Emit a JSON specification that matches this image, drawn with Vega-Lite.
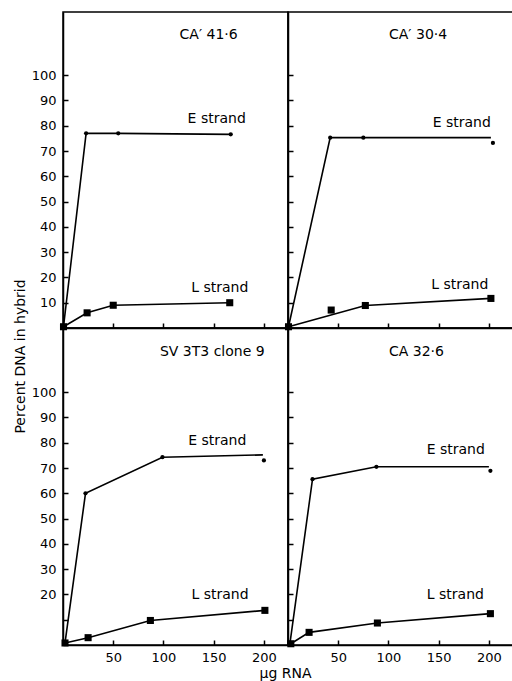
{
  "$schema": "https://vega.github.io/schema/vega-lite/v6.json",
  "padding": {"left": 12, "top": 11, "right": 0, "bottom": 0},
  "bounds": "flush",
  "spacing": 0,
  "columns": 2,
  "background": "white",
  "config": {
    "view": {"stroke": "black", "strokeWidth": 1.5},
    "axis": {
      "grid": false,
      "domainColor": "black",
      "domainWidth": 1.5,
      "tickColor": "black",
      "tickWidth": 1.5,
      "tickSize": -5,
      "labelFont": "DejaVu Sans",
      "labelFontSize": 13,
      "labelColor": "black",
      "labelFlush": false,
      "labelOverlap": false,
      "titleFont": "DejaVu Sans",
      "titleFontSize": 14,
      "titleFontWeight": "normal",
      "titleColor": "black"
    },
    "axisY": {"labelPadding": 12},
    "axisX": {"labelPadding": 11}
  },
  "datasets": {
    "curves": [
      {"panel": "CA′ 41·6", "strand": "E", "x": 0.5, "y": 0.5},
      {"panel": "CA′ 41·6", "strand": "E", "x": 23, "y": 77},
      {"panel": "CA′ 41·6", "strand": "E", "x": 55, "y": 77},
      {"panel": "CA′ 41·6", "strand": "E", "x": 167, "y": 76.6},
      {"panel": "CA′ 41·6", "strand": "L", "x": 0.5, "y": 0.5},
      {"panel": "CA′ 41·6", "strand": "L", "x": 24, "y": 6},
      {"panel": "CA′ 41·6", "strand": "L", "x": 50, "y": 9},
      {"panel": "CA′ 41·6", "strand": "L", "x": 166, "y": 10},
      {"panel": "CA′ 30·4", "strand": "E", "x": 0.5, "y": 0.5},
      {"panel": "CA′ 30·4", "strand": "E", "x": 42, "y": 75.3},
      {"panel": "CA′ 30·4", "strand": "E", "x": 75, "y": 75.3},
      {"panel": "CA′ 30·4", "strand": "E", "x": 202, "y": 75.3},
      {"panel": "CA′ 30·4", "strand": "L", "x": 0.5, "y": 0.5},
      {"panel": "CA′ 30·4", "strand": "L", "x": 77, "y": 8.9},
      {"panel": "CA′ 30·4", "strand": "L", "x": 202, "y": 11.7},
      {"panel": "SV 3T3 clone 9", "strand": "E", "x": 2, "y": 0.8},
      {"panel": "SV 3T3 clone 9", "strand": "E", "x": 22.4, "y": 60},
      {"panel": "SV 3T3 clone 9", "strand": "E", "x": 99, "y": 74.3},
      {"panel": "SV 3T3 clone 9", "strand": "E", "x": 199, "y": 75.2},
      {"panel": "SV 3T3 clone 9", "strand": "L", "x": 2, "y": 0.8},
      {"panel": "SV 3T3 clone 9", "strand": "L", "x": 25, "y": 2.9},
      {"panel": "SV 3T3 clone 9", "strand": "L", "x": 87, "y": 9.7},
      {"panel": "SV 3T3 clone 9", "strand": "L", "x": 201, "y": 13.7},
      {"panel": "CA 32·6", "strand": "E", "x": 2, "y": 0.8},
      {"panel": "CA 32·6", "strand": "E", "x": 24.4, "y": 65.6},
      {"panel": "CA 32·6", "strand": "E", "x": 88, "y": 70.5},
      {"panel": "CA 32·6", "strand": "E", "x": 200, "y": 70.5},
      {"panel": "CA 32·6", "strand": "L", "x": 2.8, "y": 0.5},
      {"panel": "CA 32·6", "strand": "L", "x": 21, "y": 5},
      {"panel": "CA 32·6", "strand": "L", "x": 89, "y": 8.7},
      {"panel": "CA 32·6", "strand": "L", "x": 201.5, "y": 12.4}
    ],
    "points": [
      {"panel": "CA′ 41·6", "strand": "E", "x": 23, "y": 77},
      {"panel": "CA′ 41·6", "strand": "E", "x": 55, "y": 77},
      {"panel": "CA′ 41·6", "strand": "E", "x": 167, "y": 76.6},
      {"panel": "CA′ 41·6", "strand": "L", "x": 0.5, "y": 0.5},
      {"panel": "CA′ 41·6", "strand": "L", "x": 24, "y": 6},
      {"panel": "CA′ 41·6", "strand": "L", "x": 50, "y": 9},
      {"panel": "CA′ 41·6", "strand": "L", "x": 166, "y": 10},
      {"panel": "CA′ 30·4", "strand": "E", "x": 42, "y": 75.3},
      {"panel": "CA′ 30·4", "strand": "E", "x": 75, "y": 75.3},
      {"panel": "CA′ 30·4", "strand": "E", "x": 204, "y": 73.2},
      {"panel": "CA′ 30·4", "strand": "L", "x": 0.5, "y": 0.5},
      {"panel": "CA′ 30·4", "strand": "L", "x": 43, "y": 7.1},
      {"panel": "CA′ 30·4", "strand": "L", "x": 77, "y": 8.9},
      {"panel": "CA′ 30·4", "strand": "L", "x": 202, "y": 11.7},
      {"panel": "SV 3T3 clone 9", "strand": "E", "x": 22.4, "y": 60},
      {"panel": "SV 3T3 clone 9", "strand": "E", "x": 99, "y": 74.3},
      {"panel": "SV 3T3 clone 9", "strand": "E", "x": 200, "y": 73},
      {"panel": "SV 3T3 clone 9", "strand": "L", "x": 2, "y": 0.8},
      {"panel": "SV 3T3 clone 9", "strand": "L", "x": 25, "y": 2.9},
      {"panel": "SV 3T3 clone 9", "strand": "L", "x": 87, "y": 9.7},
      {"panel": "SV 3T3 clone 9", "strand": "L", "x": 201, "y": 13.7},
      {"panel": "CA 32·6", "strand": "E", "x": 24.4, "y": 65.6},
      {"panel": "CA 32·6", "strand": "E", "x": 88, "y": 70.5},
      {"panel": "CA 32·6", "strand": "E", "x": 201.5, "y": 68.9},
      {"panel": "CA 32·6", "strand": "L", "x": 2.8, "y": 0.5},
      {"panel": "CA 32·6", "strand": "L", "x": 21, "y": 5},
      {"panel": "CA 32·6", "strand": "L", "x": 89, "y": 8.7},
      {"panel": "CA 32·6", "strand": "L", "x": 201.5, "y": 12.4}
    ],
    "labels": [
      {"panel": "CA′ 41·6", "text": "CA′ 41·6", "x": 145, "y": 115.8},
      {"panel": "CA′ 41·6", "text": "E strand", "x": 153, "y": 82.5},
      {"panel": "CA′ 41·6", "text": "L strand", "x": 156, "y": 16},
      {"panel": "CA′ 30·4", "text": "CA′ 30·4", "x": 129.5, "y": 115.8},
      {"panel": "CA′ 30·4", "text": "E strand", "x": 173, "y": 81.2},
      {"panel": "CA′ 30·4", "text": "L strand", "x": 171, "y": 17},
      {"panel": "SV 3T3 clone 9", "text": "SV 3T3 clone 9", "x": 148.6, "y": 116},
      {"panel": "SV 3T3 clone 9", "text": "E strand", "x": 153.6, "y": 80.6},
      {"panel": "SV 3T3 clone 9", "text": "L strand", "x": 156.3, "y": 19.9},
      {"panel": "CA 32·6", "text": "CA 32·6", "x": 127.9, "y": 116},
      {"panel": "CA 32·6", "text": "E strand", "x": 167, "y": 77.3},
      {"panel": "CA 32·6", "text": "L strand", "x": 166.6, "y": 19.9}
    ]
  },
  "concat": [
    {
      "width": 225, "height": 316,
      "encoding": {
        "x": {"field": "x", "type": "quantitative", "scale": {"domain": [0, 224]}, "axis": {"values": [50, 100, 150, 200], "labels": false, "title": null}},
        "y": {"field": "y", "type": "quantitative", "scale": {"domain": [0, 125]}, "axis": {"values": [10, 20, 30, 40, 50, 60, 70, 80, 90, 100], "title": null}}
      },
      "layer": [
        {"data": {"name": "curves"}, "transform": [{"filter": "datum.panel === 'CA′ 41·6'"}], "mark": {"type": "line", "color": "black", "strokeWidth": 1.6}, "encoding": {"detail": {"field": "strand"}, "order": {"field": "x", "type": "quantitative"}}},
        {"data": {"name": "points"}, "transform": [{"filter": "datum.panel === 'CA′ 41·6'"}], "mark": {"type": "point", "filled": true, "color": "black", "opacity": 1}, "encoding": {"shape": {"field": "strand", "scale": {"domain": ["E", "L"], "range": ["circle", "square"]}, "legend": null}, "size": {"field": "strand", "type": "nominal", "scale": {"domain": ["E", "L"], "range": [18, 50]}, "legend": null}}},
        {"data": {"name": "labels"}, "transform": [{"filter": "datum.panel === 'CA′ 41·6'"}], "mark": {"type": "text", "font": "DejaVu Sans", "fontSize": 14, "color": "black", "align": "center", "baseline": "middle"}, "encoding": {"text": {"field": "text"}}}
      ]
    },
    {
      "width": 225, "height": 316,
      "encoding": {
        "x": {"field": "x", "type": "quantitative", "scale": {"domain": [0, 224]}, "axis": {"values": [50, 100, 150, 200], "labels": false, "title": null}},
        "y": {"field": "y", "type": "quantitative", "scale": {"domain": [0, 125]}, "axis": {"values": [10, 20, 30, 40, 50, 60, 70, 80, 90, 100], "labels": false, "title": null}}
      },
      "layer": [
        {"data": {"name": "curves"}, "transform": [{"filter": "datum.panel === 'CA′ 30·4'"}], "mark": {"type": "line", "color": "black", "strokeWidth": 1.6}, "encoding": {"detail": {"field": "strand"}, "order": {"field": "x", "type": "quantitative"}}},
        {"data": {"name": "points"}, "transform": [{"filter": "datum.panel === 'CA′ 30·4'"}], "mark": {"type": "point", "filled": true, "color": "black", "opacity": 1}, "encoding": {"shape": {"field": "strand", "scale": {"domain": ["E", "L"], "range": ["circle", "square"]}, "legend": null}, "size": {"field": "strand", "type": "nominal", "scale": {"domain": ["E", "L"], "range": [18, 50]}, "legend": null}}},
        {"data": {"name": "labels"}, "transform": [{"filter": "datum.panel === 'CA′ 30·4'"}], "mark": {"type": "text", "font": "DejaVu Sans", "fontSize": 14, "color": "black", "align": "center", "baseline": "middle"}, "encoding": {"text": {"field": "text"}}}
      ]
    },
    {
      "width": 225, "height": 317,
      "encoding": {
        "x": {"field": "x", "type": "quantitative", "scale": {"domain": [0, 224]}, "axis": {"values": [50, 100, 150, 200], "title": "μg RNA", "titleX": 222, "titleY": 28, "titleBaseline": "middle", "titleAlign": "center"}},
        "y": {"field": "y", "type": "quantitative", "scale": {"domain": [0, 125.4]}, "axis": {"values": [10, 20, 30, 40, 50, 60, 70, 80, 90, 100], "labelExpr": "datum.value == 10 ? '' : datum.label", "title": "Percent DNA in hybrid", "titleX": -43, "titleY": 28, "titleAngle": 270, "titleAlign": "center", "titleBaseline": "middle"}}
      },
      "layer": [
        {"data": {"name": "curves"}, "transform": [{"filter": "datum.panel === 'SV 3T3 clone 9'"}], "mark": {"type": "line", "color": "black", "strokeWidth": 1.6}, "encoding": {"detail": {"field": "strand"}, "order": {"field": "x", "type": "quantitative"}}},
        {"data": {"name": "points"}, "transform": [{"filter": "datum.panel === 'SV 3T3 clone 9'"}], "mark": {"type": "point", "filled": true, "color": "black", "opacity": 1}, "encoding": {"shape": {"field": "strand", "scale": {"domain": ["E", "L"], "range": ["circle", "square"]}, "legend": null}, "size": {"field": "strand", "type": "nominal", "scale": {"domain": ["E", "L"], "range": [18, 50]}, "legend": null}}},
        {"data": {"name": "labels"}, "transform": [{"filter": "datum.panel === 'SV 3T3 clone 9'"}], "mark": {"type": "text", "font": "DejaVu Sans", "fontSize": 14, "color": "black", "align": "center", "baseline": "middle"}, "encoding": {"text": {"field": "text"}}}
      ]
    },
    {
      "width": 225, "height": 317,
      "encoding": {
        "x": {"field": "x", "type": "quantitative", "scale": {"domain": [0, 224]}, "axis": {"values": [50, 100, 150, 200], "title": null}},
        "y": {"field": "y", "type": "quantitative", "scale": {"domain": [0, 125.4]}, "axis": {"values": [10, 20, 30, 40, 50, 60, 70, 80, 90, 100], "labels": false, "title": null}}
      },
      "layer": [
        {"data": {"name": "curves"}, "transform": [{"filter": "datum.panel === 'CA 32·6'"}], "mark": {"type": "line", "color": "black", "strokeWidth": 1.6}, "encoding": {"detail": {"field": "strand"}, "order": {"field": "x", "type": "quantitative"}}},
        {"data": {"name": "points"}, "transform": [{"filter": "datum.panel === 'CA 32·6'"}], "mark": {"type": "point", "filled": true, "color": "black", "opacity": 1}, "encoding": {"shape": {"field": "strand", "scale": {"domain": ["E", "L"], "range": ["circle", "square"]}, "legend": null}, "size": {"field": "strand", "type": "nominal", "scale": {"domain": ["E", "L"], "range": [18, 50]}, "legend": null}}},
        {"data": {"name": "labels"}, "transform": [{"filter": "datum.panel === 'CA 32·6'"}], "mark": {"type": "text", "font": "DejaVu Sans", "fontSize": 14, "color": "black", "align": "center", "baseline": "middle"}, "encoding": {"text": {"field": "text"}}}
      ]
    }
  ]
}
